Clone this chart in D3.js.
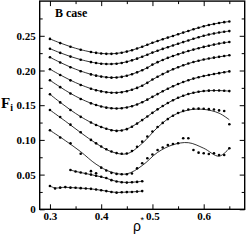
<!DOCTYPE html>
<html>
<head>
<meta charset="utf-8">
<script src="https://cdn.jsdelivr.net/npm/d3@7"></script>
<style>
  html, body { margin: 0; padding: 0; background: #fff; }
</style>
</head>
<body>
<script>
// Tick values
const xTicks = [0.3, 0.4, 0.5, 0.6]
const xMinor = [0.35, 0.45, 0.55, 0.65]
const yTicks = [0, 0.05, 0.1, 0.15, 0.2, 0.25]
const yMinor = [0.025, 0.075, 0.125, 0.175, 0.225, 0.275]

// Shared x positions of the long series
const xGrid = [0.30, 0.32, 0.34, 0.36, 0.38, 0.39, 0.40, 0.41, 0.42, 0.43, 0.44, 0.45, 0.46, 0.47, 0.48, 0.49,
  0.50, 0.51, 0.52, 0.53, 0.54, 0.55, 0.56, 0.57, 0.58, 0.59, 0.60, 0.61, 0.62, 0.63, 0.64, 0.65]

// F_i values, top curve first
const c1 = [.2455, .2395, .2342, .2298, .2266, .2254, .2245, .2240, .2240, .2245, .2256, .2272, .2292, .2316, .2342, .2370,
  .2400, .2425, .2450, .2474, .2498, .2522, .2546, .2570, .2594, .2616, .2638, .2656, .2671, .2685, .2697, .2706]
const c2 = [.2314, .2254, .2200, .2155, .2121, .2108, .2098, .2093, .2093, .2098, .2109, .2125, .2146, .2171, .2199, .2228,
  .2258, .2285, .2311, .2336, .2361, .2385, .2409, .2433, .2457, .2479, .2500, .2518, .2533, .2547, .2559, .2568]
const c3 = [.2190, .2115, .2047, .1990, .1944, .1926, .1912, .1902, .1897, .1899, .1908, .1924, .1946, .1973, .2004, .2038,
  .2085, .2120, .2152, .2182, .2209, .2234, .2258, .2280, .2301, .2321, .2340, .2357, .2373, .2388, .2401, .2410]
const c4 = [.2019, .1935, .1858, .1792, .1738, .1716, .1699, .1687, .1680, .1680, .1687, .1701, .1722, .1749, .1781, .1822,
  .1870, .1910, .1948, .1984, .2017, .2047, .2075, .2100, .2122, .2141, .2158, .2172, .2185, .2197, .2208, .2219]
const c5 = [.1859, .1760, .1668, .1590, .1527, .1502, .1481, .1465, .1455, .1452, .1456, .1467, .1485, .1510, .1542, .1580,
  .1620, .1660, .1700, .1738, .1773, .1805, .1834, .1860, .1883, .1903, .1920, .1935, .1949, .1962, .1975, .1987]
const c6 = [.1657, .1540, .1430, .1332, .1250, .1215, .1185, .1160, .1140, .1130, .1135, .1155, .1190, .1235, .1285, .1337,
  .1390, .1440, .1488, .1532, .1572, .1607, .1637, .1661, .1680, .1694, .1704, .1710, .1712, .1711, .1708, .1703]
const c7 = [.1431, .1330, .1220, .1110, .1000, .0950, .0905, .0865, .0832, .0810, .0800, .0805, .0840, .0900, .0975, .1050,
  .1120, .1185, .1245, .1300, .1348, .1388, .1418, .1438, .1448, .1450, .1448, .1443, .1438, .1425, .1417, .1225]
const c8 = [.1138, .1035, .0950, .0800, .0550, .0520, .0600, .0560, .0525, .0510, .0505, .0505, .0515, .0590, .0663, .0735,
  .0790, .0854, .0890, .0926, .0940, .0951, .1023, .1023, .0854, .0816, .0807, .0797, .0807, .0782, .0782, .0879]

// Fitted curves for the two scattered series
const fitX = [0.30, 0.33, 0.36, 0.39, 0.42, 0.45, 0.48, 0.51, 0.54, 0.57, 0.60, 0.63, 0.65]
const c7Fit = [.1431, .1270, .1105, .0950, .0830, .0800, .0950, .1180, .1350, .1430, .1440, .1385, .1290]
const c8Fit = [.1138, .0990, .0830, .0650, .0535, .0510, .0630, .0820, .0930, .0960, .0880, .0765, .0880]

// Short series at the bottom
const c9X = [0.34, 0.35, 0.36, 0.37, 0.38, 0.39, 0.40, 0.41, 0.42, 0.43, 0.44, 0.45, 0.46, 0.47, 0.48]
const c9 = [.0566, .0545, .0530, .0515, .0500, .0483, .0468, .0450, .0420, .0400, .0390, .0385, .0390, .0395, .0405]
const c10X = [0.30, 0.31, 0.32, 0.33, 0.34, 0.35, 0.36, 0.37, 0.38, 0.39, 0.40, 0.41, 0.42, 0.43, 0.44, 0.45, 0.46, 0.47, 0.48]
const c10 = [.0336, .0300, .0312, .0320, .0312, .0310, .0305, .0300, .0295, .0285, .0275, .0262, .0250, .0240, .0245, .0248, .0250, .0255, .0262]

const zip = (xs, ys) => xs.map((v, i) => [v, ys[i]])

const series = [
  { dots: zip(xGrid, c1) },
  { dots: zip(xGrid, c2) },
  { dots: zip(xGrid, c3) },
  { dots: zip(xGrid, c4) },
  { dots: zip(xGrid, c5) },
  { dots: zip(xGrid, c6) },
  { dots: zip(xGrid, c7), fit: zip(fitX, c7Fit) },
  { dots: zip(xGrid, c8), fit: zip(fitX, c8Fit) },
  { dots: zip(c9X, c9) },
  { dots: zip(c10X, c10) },
]

const width = 247
const height = 243
const margin = { top: 1.1, right: 2.3, bottom: 33.7, left: 39.7 }
const serif = "'Liberation Serif', 'Times New Roman', serif"

const svg = d3.select('body').append('svg')
  .attr('width', width)
  .attr('height', height)

const x = d3.scaleLinear().domain([0.28, 0.68]).range([margin.left, width - margin.right])
const y = d3.scaleLinear().domain([0, 0.3]).range([height - margin.bottom, margin.top])

// ticks, all pointing inward
function styleAxis(g) {
  g.select('.domain').remove()
  g.selectAll('line').attr('stroke', '#000').attr('stroke-width', 1)
  g.selectAll('text')
    .style('font-family', serif)
    .style('font-size', '11px')
    .style('font-weight', 700)
    .attr('fill', '#000')
}

svg.append('g')
  .attr('transform', `translate(0,${y(0)})`)
  .call(d3.axisBottom(x).tickValues(xTicks).tickSize(-5).tickSizeOuter(0).tickPadding(3).tickFormat(d3.format('.1f')))
  .call(styleAxis)
svg.append('g')
  .attr('transform', `translate(0,${y(0)})`)
  .call(d3.axisBottom(x).tickValues(xMinor).tickSize(-3).tickSizeOuter(0).tickFormat(''))
  .call(styleAxis)
svg.append('g')
  .attr('transform', `translate(0,${y(0.3)})`)
  .call(d3.axisTop(x).tickValues(xTicks).tickSize(-5).tickSizeOuter(0).tickFormat(''))
  .call(styleAxis)
svg.append('g')
  .attr('transform', `translate(0,${y(0.3)})`)
  .call(d3.axisTop(x).tickValues(xMinor).tickSize(-3).tickSizeOuter(0).tickFormat(''))
  .call(styleAxis)

svg.append('g')
  .attr('transform', `translate(${x(0.28)},0)`)
  .call(d3.axisLeft(y).tickValues(yTicks).tickSize(-5).tickSizeOuter(0).tickPadding(4)
    .tickFormat(d => d === 0 ? '0' : d3.format('.2f')(d)))
  .call(styleAxis)
svg.append('g')
  .attr('transform', `translate(${x(0.28)},0)`)
  .call(d3.axisLeft(y).tickValues(yMinor).tickSize(-3).tickSizeOuter(0).tickFormat(''))
  .call(styleAxis)
svg.append('g')
  .attr('transform', `translate(${x(0.68)},0)`)
  .call(d3.axisRight(y).tickValues(yTicks).tickSize(-5).tickSizeOuter(0).tickFormat(''))
  .call(styleAxis)
svg.append('g')
  .attr('transform', `translate(${x(0.68)},0)`)
  .call(d3.axisRight(y).tickValues(yMinor).tickSize(-3).tickSizeOuter(0).tickFormat(''))
  .call(styleAxis)

// frame
svg.append('rect')
  .attr('x', x(0.28))
  .attr('y', y(0.3))
  .attr('width', x(0.68) - x(0.28))
  .attr('height', y(0) - y(0.3))
  .attr('fill', 'none')
  .attr('stroke', '#000')
  .attr('stroke-width', 1.4)

// curves and points
const smooth = d3.line().x(d => x(d[0])).y(d => y(d[1])).curve(d3.curveBasis)
const fitted = d3.line().x(d => x(d[0])).y(d => y(d[1])).curve(d3.curveCatmullRom)

series.forEach(s => {
  svg.append('path')
    .attr('d', s.fit ? fitted(s.fit) : smooth(s.dots))
    .attr('fill', 'none')
    .attr('stroke', '#000')
    .attr('stroke-width', 0.8)

  svg.append('g').selectAll('circle')
    .data(s.dots)
    .join('circle')
    .attr('cx', d => x(d[0]))
    .attr('cy', d => y(d[1]))
    .attr('r', 1.3)
    .attr('fill', '#000')
})

// labels
svg.append('text')
  .attr('x', 55)
  .attr('y', 17)
  .style('font-family', serif)
  .style('font-size', '12px')
  .style('font-weight', 700)
  .text('B case')

const yLabel = svg.append('text')
  .attr('x', 1)
  .attr('y', 108)
  .style('font-family', serif)
  .style('font-size', '15px')
  .style('font-weight', 700)
yLabel.append('tspan').text('F')
yLabel.append('tspan').attr('dy', 3).style('font-size', '10px').text('i')

const xLabel = svg.append('text')
  .attr('x', 133)
  .attr('y', 231)
  .style('font-family', "'Liberation Sans', Arial, sans-serif")
  .style('font-size', '14px')
xLabel.append('tspan').text('ρ')
xLabel.append('tspan').attr('dx', -0.5).attr('dy', -8).style('font-size', '9px').text('*')
</script>
</body>
</html>
